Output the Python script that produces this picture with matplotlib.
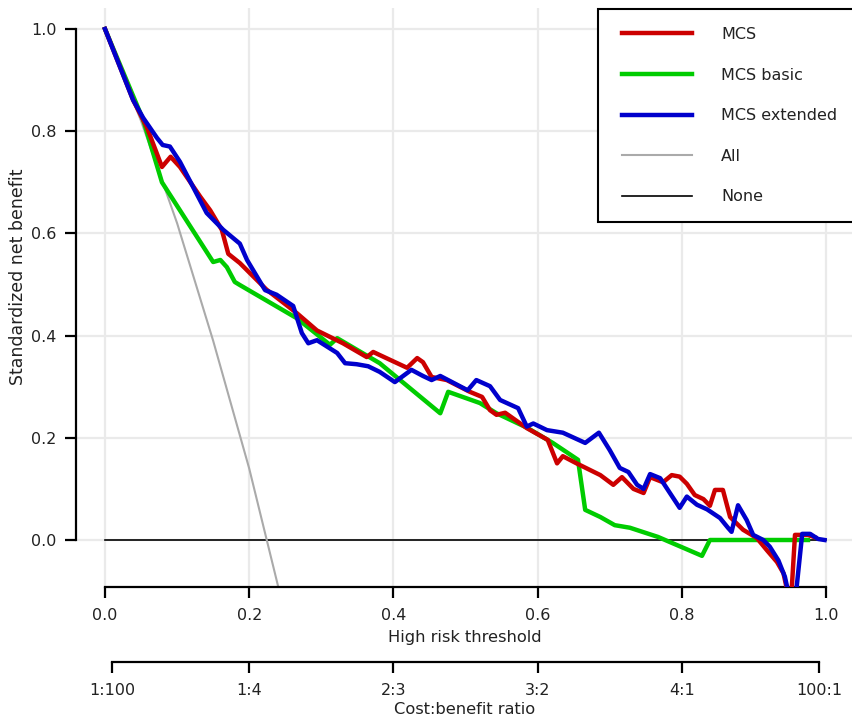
import matplotlib
matplotlib.use("Agg")
import matplotlib.pyplot as plt
from matplotlib.patches import Rectangle

# ---------------- data ----------------
thr_red = [0, 0.039, 0.058, 0.079, 0.091, 0.104, 0.132, 0.146, 0.162, 0.171, 0.187,
           0.224, 0.266, 0.294, 0.33, 0.363, 0.372, 0.381, 0.419, 0.433, 0.441, 0.453,
           0.474, 0.506, 0.523, 0.534, 0.543, 0.555, 0.585, 0.614, 0.627, 0.635, 0.654,
           0.687, 0.705, 0.717, 0.733, 0.747, 0.756, 0.774, 0.786, 0.797, 0.807, 0.818,
           0.83, 0.839, 0.846, 0.857, 0.867, 0.885, 0.904, 0.918, 0.932, 0.941, 0.951,
           0.957, 0.975, 0.985]
nb_red = [1.0, 0.861, 0.808, 0.73, 0.75, 0.73, 0.672, 0.645, 0.607, 0.56, 0.542,
          0.49, 0.444, 0.41, 0.385, 0.358, 0.368, 0.362, 0.337, 0.356, 0.348, 0.319,
          0.313, 0.29, 0.28, 0.254, 0.245, 0.249, 0.219, 0.196, 0.15, 0.164, 0.15,
          0.127, 0.108, 0.123, 0.10, 0.092, 0.123, 0.113, 0.127, 0.124, 0.11, 0.088,
          0.08, 0.067, 0.098, 0.098, 0.045, 0.02, 0.004, -0.02, -0.043, -0.065, -0.13,
          0.01, 0.01, 0.005]

thr_green = [0, 0.053, 0.079, 0.15, 0.16, 0.169, 0.18, 0.187, 0.266, 0.312, 0.322,
             0.381, 0.465, 0.476, 0.52, 0.543, 0.585, 0.621, 0.656, 0.666, 0.687,
             0.707, 0.728, 0.767, 0.828, 0.839, 0.975]
nb_green = [1.0, 0.822, 0.70, 0.544, 0.548, 0.534, 0.505, 0.499, 0.434, 0.382, 0.395,
            0.346, 0.248, 0.29, 0.268, 0.248, 0.22, 0.19, 0.157, 0.059, 0.045,
            0.029, 0.024, 0.006, -0.031, 0.0, 0.0]

thr_blue = [0, 0.039, 0.053, 0.072, 0.08, 0.09, 0.104, 0.141, 0.164, 0.187, 0.197,
            0.222, 0.238, 0.261, 0.273, 0.282, 0.294, 0.322, 0.333, 0.349, 0.365,
            0.381, 0.402, 0.425, 0.441, 0.453, 0.465, 0.503, 0.515, 0.534, 0.548,
            0.573, 0.585, 0.594, 0.613, 0.635, 0.666, 0.685, 0.70, 0.714, 0.726,
            0.738, 0.747, 0.756, 0.77, 0.797, 0.807, 0.821, 0.835, 0.853, 0.864,
            0.869, 0.878, 0.89, 0.899, 0.913, 0.922, 0.934, 0.943, 0.955, 0.967,
            0.978, 0.989, 0.998]
nb_blue = [1.0, 0.861, 0.826, 0.787, 0.773, 0.77, 0.74, 0.64, 0.607, 0.58, 0.548,
           0.489, 0.48, 0.458, 0.405, 0.385, 0.391, 0.366, 0.346, 0.344, 0.34,
           0.329, 0.309, 0.333, 0.321, 0.313, 0.321, 0.293, 0.313, 0.301, 0.274,
           0.258, 0.222, 0.228, 0.215, 0.21, 0.19, 0.21, 0.176, 0.141, 0.133,
           0.108, 0.10, 0.129, 0.121, 0.063, 0.085, 0.069, 0.06, 0.043, 0.024,
           0.016, 0.068, 0.039, 0.01, 0.0, -0.013, -0.04, -0.072, -0.15, 0.012,
           0.012, 0.002, 0.0]

thr_all = [0, 0.05, 0.1, 0.15, 0.2, 0.24, 0.25]
nb_all = [1.0, 0.82, 0.62, 0.39, 0.14, -0.09, -0.15]

thr_none = [0, 1]
nb_none = [0, 0]

x_ticks = [0.0, 0.2, 0.4, 0.6, 0.8, 1.0]
x_ticklabels = ["0.0", "0.2", "0.4", "0.6", "0.8", "1.0"]
y_ticks = [0.0, 0.2, 0.4, 0.6, 0.8, 1.0]
y_ticklabels = ["0.0", "0.2", "0.4", "0.6", "0.8", "1.0"]
cb_ticks = [1 / 101, 0.2, 0.4, 0.6, 0.8, 100 / 101]
cb_labels = ["1:100", "1:4", "2:3", "3:2", "4:1", "100:1"]

# ---------------- figure ----------------
W, H = 853, 727
plt.rcParams['font.family'] = ['DejaVu Sans']
fig = plt.figure(figsize=(W / 100, H / 100), dpi=100)
txt = '#222222'

ax = fig.add_axes([76 / W, 1 - 587 / H, (W - 76) / W, (587 - 8) / H])
ax.set_xlim(-29 / 721, 748 / 721)
ax.set_ylim(-47 / 511, 532 / 511)

ax.grid(True, color='#EAEAEA', lw=1.6)
ax.set_axisbelow(True)

l_none, = ax.plot(thr_none, nb_none, color='black', lw=1.2, label='None', zorder=2)
l_all, = ax.plot(thr_all, nb_all, color='#AAAAAA', lw=1.5, label='All', zorder=2)
l_green, = ax.plot(thr_green, nb_green, color='#00CC00', lw=3.2, label='MCS basic',
                   zorder=3, solid_joinstyle='round')
l_red, = ax.plot(thr_red, nb_red, color='#CC0000', lw=3.2, label='MCS',
                 zorder=3, solid_joinstyle='round')
l_blue, = ax.plot(thr_blue, nb_blue, color='#0000CC', lw=3.2, label='MCS extended',
                  zorder=3, solid_joinstyle='round')

for s in ['top', 'right']:
    ax.spines[s].set_visible(False)
ax.spines['left'].set_bounds(0, 1)
ax.spines['bottom'].set_bounds(0, 1)
for s in ['left', 'bottom']:
    ax.spines[s].set_linewidth(1.6)
ax.set_xticks(x_ticks)
ax.set_xticklabels(x_ticklabels)
ax.set_yticks(y_ticks)
ax.set_yticklabels(y_ticklabels)
ax.tick_params(axis='both', direction='out', length=8, width=1.6,
               labelsize=11.5, labelcolor=txt)
ax.tick_params(axis='y', pad=6)
ax.tick_params(axis='x', pad=7)
ax.set_xlabel("High risk threshold", fontsize=11.7, color=txt, labelpad=5)
ax.set_ylabel("Standardized net benefit", fontsize=12.5, color=txt)
ax.yaxis.set_label_coords(-49 / 777, (587 - 277) / 579)

# legend with manual frame
rect = Rectangle((598 / W, 1 - 222 / H), 300 / W, 213 / H, transform=fig.transFigure,
                 facecolor='white', edgecolor='black', lw=1.5, zorder=4, clip_on=False)
ax.add_artist(rect)
leg = ax.legend(handles=[l_red, l_green, l_blue, l_all, l_none],
                loc='upper left', bbox_to_anchor=(622 / W, 1 - 27 / H),
                bbox_transform=fig.transFigure, frameon=False, fontsize=11.5,
                handlelength=4.4, handletextpad=1.8, labelspacing=1.6,
                borderpad=0, borderaxespad=0)
leg.set_zorder(5)
for t in leg.get_texts():
    t.set_color(txt)

# cost:benefit axis
ax2 = fig.add_axes([76 / W, 1 - 662 / H, (W - 76) / W, 0.0001])
ax2.set_xlim(ax.get_xlim())
ax2.patch.set_visible(False)
for s in ['top', 'right', 'left']:
    ax2.spines[s].set_visible(False)
ax2.spines['bottom'].set_bounds(cb_ticks[0], cb_ticks[-1])
ax2.spines['bottom'].set_linewidth(1.6)
ax2.set_yticks([])
ax2.set_xticks(cb_ticks)
ax2.set_xticklabels(cb_labels)
ax2.tick_params(axis='x', direction='out', length=8, width=1.6, labelsize=11.5,
                labelcolor=txt, pad=7)
ax2.set_xlabel("Cost:benefit ratio", fontsize=11.7, color=txt, labelpad=3)

fig.savefig("out.png", dpi=100)
